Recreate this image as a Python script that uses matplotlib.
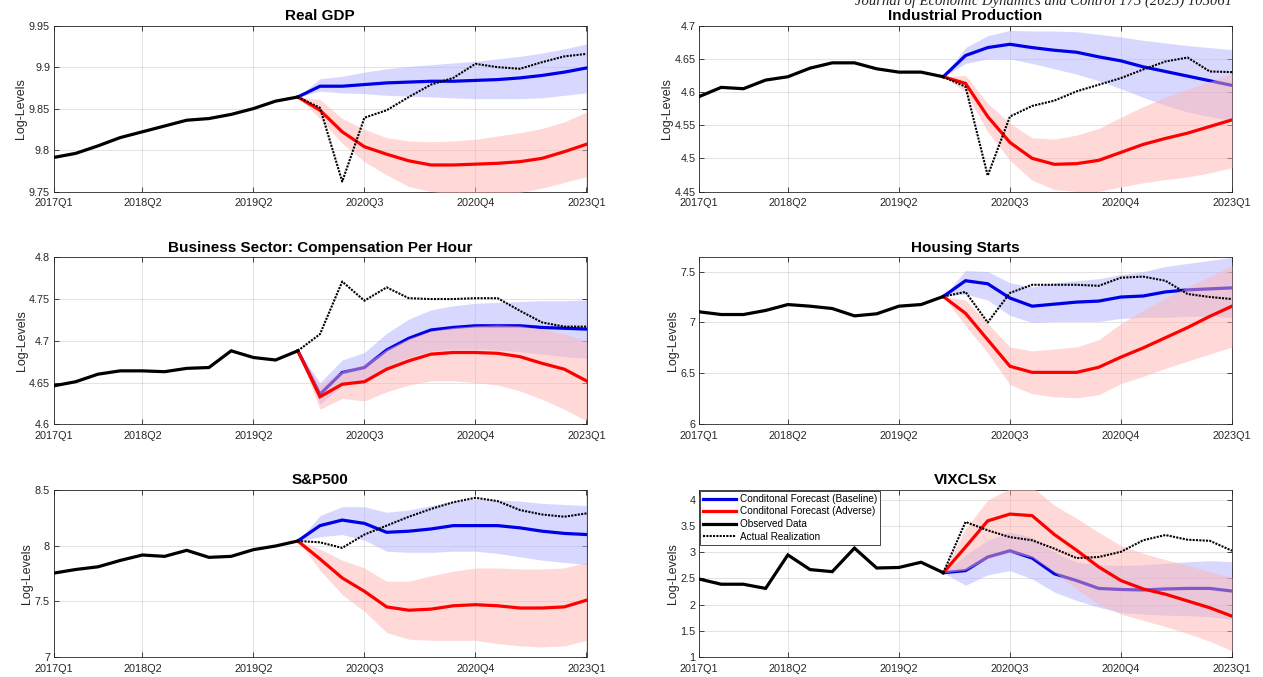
import matplotlib
matplotlib.use("Agg")
import matplotlib.pyplot as plt
from matplotlib.lines import Line2D
from matplotlib.ticker import FixedLocator, FuncFormatter

plt.rcParams["font.family"] = ["Liberation Sans", "DejaVu Sans"]

# Quarter index (1-based), ticks and their labels
QUARTERS = list(range(1, 26))
LAST_OBS = 12
TICK_POS = [1, 5, 10, 15, 20, 25]
TICK_LABELS = ["2017Q1", "2018Q2", "2019Q2", "2020Q3", "2020Q4", "2023Q1"]

# ---- Real GDP ----
GDP_OBS = [9.791, 9.796, 9.805, 9.815, 9.822, 9.829, 9.836, 9.838, 9.843, 9.850, 9.859, 9.864]
GDP_BASE = [9.864, 9.877, 9.877, 9.879, 9.881, 9.882, 9.883, 9.883, 9.884, 9.885, 9.887, 9.890, 9.894, 9.899]
GDP_BASE_HI = [9.864, 9.886, 9.889, 9.894, 9.898, 9.901, 9.903, 9.905, 9.907, 9.910, 9.913, 9.917, 9.922, 9.928]
GDP_BASE_LO = [9.864, 9.871, 9.869, 9.868, 9.866, 9.865, 9.864, 9.863, 9.862, 9.862, 9.862, 9.863, 9.866, 9.869]
GDP_ADV = [9.864, 9.848, 9.822, 9.804, 9.795, 9.787, 9.782, 9.782, 9.783, 9.784, 9.786, 9.790, 9.798, 9.807]
GDP_ADV_HI = [9.864, 9.861, 9.838, 9.825, 9.815, 9.811, 9.810, 9.811, 9.813, 9.817, 9.821, 9.826, 9.834, 9.846]
GDP_ADV_LO = [9.864, 9.838, 9.808, 9.786, 9.770, 9.756, 9.750, 9.747, 9.746, 9.747, 9.749, 9.754, 9.761, 9.768]
GDP_ACTUAL = [9.864, 9.851, 9.762, 9.839, 9.848, 9.864, 9.879, 9.887, 9.904, 9.900, 9.898, 9.906, 9.913, 9.916]

# ---- Industrial Production ----
IP_OBS = [4.593, 4.607, 4.605, 4.618, 4.623, 4.636, 4.644, 4.644, 4.635, 4.630, 4.630, 4.623]
IP_BASE = [4.623, 4.655, 4.667, 4.672, 4.667, 4.663, 4.660, 4.653, 4.647, 4.638, 4.631, 4.624, 4.617, 4.610]
IP_BASE_HI = [4.623, 4.667, 4.685, 4.693, 4.692, 4.692, 4.691, 4.687, 4.683, 4.678, 4.674, 4.670, 4.667, 4.664]
IP_BASE_LO = [4.623, 4.643, 4.650, 4.650, 4.643, 4.635, 4.627, 4.617, 4.605, 4.592, 4.580, 4.570, 4.563, 4.557]
IP_ADV = [4.623, 4.613, 4.563, 4.524, 4.500, 4.491, 4.492, 4.497, 4.509, 4.521, 4.530, 4.538, 4.548, 4.558]
IP_ADV_HI = [4.623, 4.625, 4.583, 4.553, 4.531, 4.529, 4.535, 4.545, 4.562, 4.578, 4.592, 4.604, 4.616, 4.628]
IP_ADV_LO = [4.623, 4.600, 4.540, 4.497, 4.467, 4.453, 4.450, 4.450, 4.457, 4.463, 4.468, 4.472, 4.478, 4.486]
IP_ACTUAL = [4.623, 4.608, 4.474, 4.563, 4.579, 4.587, 4.601, 4.611, 4.621, 4.634, 4.646, 4.652, 4.631, 4.630]

# ---- Business Sector: Compensation Per Hour ----
CPH_OBS = [4.646, 4.651, 4.660, 4.664, 4.664, 4.663, 4.667, 4.668, 4.688, 4.680, 4.677, 4.688]
CPH_BASE = [4.688, 4.636, 4.662, 4.668, 4.689, 4.703, 4.713, 4.716, 4.718, 4.718, 4.718, 4.716, 4.715, 4.714]
CPH_BASE_HI = [4.688, 4.650, 4.677, 4.686, 4.709, 4.726, 4.737, 4.742, 4.745, 4.746, 4.747, 4.748, 4.748, 4.749]
CPH_BASE_LO = [4.688, 4.624, 4.647, 4.652, 4.669, 4.680, 4.688, 4.690, 4.690, 4.689, 4.687, 4.684, 4.681, 4.679]
CPH_ADV = [4.688, 4.633, 4.648, 4.651, 4.666, 4.676, 4.684, 4.686, 4.686, 4.685, 4.681, 4.673, 4.666, 4.652]
CPH_ADV_HI = [4.688, 4.647, 4.664, 4.672, 4.690, 4.703, 4.712, 4.716, 4.718, 4.719, 4.718, 4.714, 4.708, 4.700]
CPH_ADV_LO = [4.688, 4.618, 4.631, 4.628, 4.639, 4.647, 4.652, 4.652, 4.650, 4.647, 4.640, 4.630, 4.618, 4.604]
CPH_ACTUAL = [4.688, 4.708, 4.771, 4.748, 4.764, 4.751, 4.750, 4.750, 4.751, 4.751, 4.736, 4.722, 4.717, 4.717]

# ---- Housing Starts ----
HS_OBS = [7.105, 7.078, 7.078, 7.118, 7.176, 7.160, 7.137, 7.065, 7.085, 7.160, 7.176, 7.255]
HS_BASE = [7.255, 7.41, 7.38, 7.24, 7.16, 7.18, 7.20, 7.21, 7.25, 7.26, 7.30, 7.32, 7.33, 7.34]
HS_BASE_HI = [7.255, 7.51, 7.50, 7.39, 7.35, 7.39, 7.41, 7.43, 7.47, 7.50, 7.55, 7.58, 7.61, 7.64]
HS_BASE_LO = [7.255, 7.28, 7.22, 7.07, 7.00, 7.01, 7.01, 7.01, 7.04, 7.05, 7.05, 7.06, 7.06, 7.05]
HS_ADV = [7.255, 7.09, 6.83, 6.57, 6.51, 6.51, 6.51, 6.56, 6.66, 6.75, 6.85, 6.95, 7.06, 7.16]
HS_ADV_HI = [7.255, 7.22, 6.99, 6.76, 6.72, 6.74, 6.76, 6.83, 6.99, 7.12, 7.24, 7.35, 7.45, 7.56]
HS_ADV_LO = [7.255, 6.97, 6.70, 6.39, 6.30, 6.27, 6.26, 6.29, 6.40, 6.47, 6.55, 6.62, 6.69, 6.76]
HS_ACTUAL = [7.255, 7.30, 7.00, 7.29, 7.37, 7.37, 7.37, 7.36, 7.44, 7.45, 7.41, 7.28, 7.25, 7.23]

# ---- S&P500 ----
SP_OBS = [7.753, 7.786, 7.810, 7.867, 7.916, 7.904, 7.958, 7.895, 7.904, 7.964, 7.997, 8.042]
SP_BASE = [8.042, 8.18, 8.23, 8.20, 8.12, 8.13, 8.15, 8.18, 8.18, 8.18, 8.16, 8.13, 8.11, 8.10]
SP_BASE_HI = [8.042, 8.27, 8.35, 8.35, 8.30, 8.32, 8.36, 8.40, 8.42, 8.41, 8.40, 8.38, 8.37, 8.36]
SP_BASE_LO = [8.042, 8.08, 8.10, 8.05, 7.95, 7.94, 7.94, 7.95, 7.95, 7.93, 7.90, 7.87, 7.85, 7.83]
SP_ADV = [8.042, 7.88, 7.71, 7.59, 7.45, 7.42, 7.43, 7.46, 7.47, 7.46, 7.44, 7.44, 7.45, 7.51]
SP_ADV_HI = [8.042, 7.97, 7.87, 7.80, 7.68, 7.68, 7.73, 7.77, 7.80, 7.80, 7.79, 7.79, 7.80, 7.85]
SP_ADV_LO = [8.042, 7.78, 7.56, 7.41, 7.22, 7.16, 7.15, 7.15, 7.15, 7.12, 7.10, 7.09, 7.10, 7.15]
SP_ACTUAL = [8.042, 8.03, 7.98, 8.10, 8.18, 8.26, 8.33, 8.39, 8.43, 8.40, 8.32, 8.28, 8.26, 8.29]

# ---- VIXCLSx ----
VIX_OBS = [2.49, 2.39, 2.39, 2.31, 2.95, 2.67, 2.63, 3.08, 2.70, 2.71, 2.81, 2.61]
VIX_BASE = [2.61, 2.65, 2.91, 3.03, 2.89, 2.59, 2.46, 2.31, 2.29, 2.28, 2.30, 2.31, 2.31, 2.26]
VIX_BASE_HI = [2.61, 2.95, 3.23, 3.39, 3.29, 3.00, 2.81, 2.76, 2.75, 2.76, 2.79, 2.82, 2.84, 2.82]
VIX_BASE_LO = [2.61, 2.37, 2.57, 2.65, 2.49, 2.24, 2.08, 1.95, 1.85, 1.82, 1.80, 1.79, 1.77, 1.72]
VIX_ADV = [2.61, 3.10, 3.60, 3.73, 3.70, 3.34, 3.04, 2.72, 2.46, 2.30, 2.20, 2.07, 1.94, 1.78]
VIX_ADV_HI = [2.61, 3.45, 4.00, 4.22, 4.25, 3.90, 3.65, 3.38, 3.13, 2.98, 2.86, 2.75, 2.63, 2.52]
VIX_ADV_LO = [2.61, 2.66, 2.88, 3.00, 2.90, 2.62, 2.30, 2.00, 1.82, 1.70, 1.58, 1.45, 1.30, 1.12]
VIX_ACTUAL = [2.61, 3.58, 3.42, 3.29, 3.23, 3.07, 2.89, 2.91, 3.01, 3.23, 3.33, 3.24, 3.22, 3.03]

PANELS = [
    ("Real GDP", GDP_OBS, GDP_BASE, GDP_BASE_LO, GDP_BASE_HI, GDP_ADV, GDP_ADV_LO, GDP_ADV_HI, GDP_ACTUAL,
     (9.75, 9.95), [9.75, 9.8, 9.85, 9.9, 9.95]),
    ("Industrial Production", IP_OBS, IP_BASE, IP_BASE_LO, IP_BASE_HI, IP_ADV, IP_ADV_LO, IP_ADV_HI, IP_ACTUAL,
     (4.45, 4.7), [4.45, 4.5, 4.55, 4.6, 4.65, 4.7]),
    ("Business Sector: Compensation Per Hour", CPH_OBS, CPH_BASE, CPH_BASE_LO, CPH_BASE_HI, CPH_ADV, CPH_ADV_LO,
     CPH_ADV_HI, CPH_ACTUAL, (4.6, 4.8), [4.6, 4.65, 4.7, 4.75, 4.8]),
    ("Housing Starts", HS_OBS, HS_BASE, HS_BASE_LO, HS_BASE_HI, HS_ADV, HS_ADV_LO, HS_ADV_HI, HS_ACTUAL,
     (6.0, 7.64), [6, 6.5, 7, 7.5]),
    ("S&P500", SP_OBS, SP_BASE, SP_BASE_LO, SP_BASE_HI, SP_ADV, SP_ADV_LO, SP_ADV_HI, SP_ACTUAL,
     (7.0, 8.5), [7, 7.5, 8, 8.5]),
    ("VIXCLSx", VIX_OBS, VIX_BASE, VIX_BASE_LO, VIX_BASE_HI, VIX_ADV, VIX_ADV_LO, VIX_ADV_HI, VIX_ACTUAL,
     (1.0, 4.19), [1, 1.5, 2, 2.5, 3, 3.5, 4]),
]

BLUE = "#0000e6"
RED = "#ff0000"
BLUE_BAND = "#b3b3ff"
RED_BAND = "#ffb3b3"
AX_COLOR = "#262626"
DOT_STYLE = (0, (1.0, 0.6))

W, H = 1263, 677
fig = plt.figure(figsize=(W / 100, H / 100), dpi=100)

col_left = [53.5, 699.0]
col_width = 533.0
rows_px = [(25.7, 191.5), (257.3, 424.3), (490.0, 657.0)]

fmt = FuncFormatter(lambda v, _: f"{v:g}")
x_obs = QUARTERS[:LAST_OBS]
x_fc = QUARTERS[LAST_OBS - 1:]

for k, (title, obs, base, base_lo, base_hi, adv, adv_lo, adv_hi, actual, ylim, yticks) in enumerate(PANELS):
    r, c = divmod(k, 2)
    top, bot = rows_px[r]
    ax = fig.add_axes([col_left[c] / W, 1 - bot / H, col_width / W, (bot - top) / H])

    ax.fill_between(x_fc, base_lo, base_hi, color=BLUE_BAND, alpha=0.5, lw=0, zorder=2)
    ax.plot(x_fc, base, color=BLUE, lw=2.3, zorder=3, solid_joinstyle="miter")
    ax.fill_between(x_fc, adv_lo, adv_hi, color=RED_BAND, alpha=0.5, lw=0, zorder=4)
    ax.plot(x_fc, adv, color=RED, lw=2.3, zorder=5, solid_joinstyle="miter")
    ax.plot(x_obs, obs, color="black", lw=2.3, zorder=6, solid_joinstyle="miter")
    ax.plot(x_fc, actual, color="black", lw=1.5, ls=DOT_STYLE, zorder=7, dash_capstyle="butt")

    ax.set_xlim(1, 25)
    ax.set_ylim(*ylim)
    ax.xaxis.set_major_locator(FixedLocator(TICK_POS))
    ax.set_xticklabels(TICK_LABELS)
    ax.yaxis.set_major_locator(FixedLocator(yticks))
    ax.yaxis.set_major_formatter(fmt)

    ax.grid(True, color=AX_COLOR, alpha=0.15, lw=0.6, zorder=0)
    ax.set_axisbelow(True)
    for s in ax.spines.values():
        s.set_color(AX_COLOR)
        s.set_linewidth(0.6)
    ax.tick_params(direction="in", length=3.8, width=0.6, color=AX_COLOR, labelcolor=AX_COLOR,
                   labelsize=7.8, top=True, right=True)
    ax.tick_params(axis="x", pad=5)
    ax.tick_params(axis="y", pad=2.5)

    ax.set_title(title, fontsize=11, fontweight="bold", pad=4, color="black")
    ax.set_ylabel("Log-Levels", fontsize=9, color=AX_COLOR, labelpad=1)

    if title == "VIXCLSx":
        handles = [
            Line2D([], [], color=BLUE, lw=2.3),
            Line2D([], [], color=RED, lw=2.3),
            Line2D([], [], color="black", lw=2.3),
            Line2D([], [], color="black", lw=1.5, ls=DOT_STYLE),
        ]
        labels = ["Conditonal Forecast (Baseline)", "Conditonal Forecast (Adverse)",
                  "Observed Data", "Actual Realization"]
        leg = ax.legend(handles, labels, loc="upper left", bbox_to_anchor=(0.0, 1.0), borderaxespad=0.1,
                        fontsize=7.2, handlelength=3.3, handletextpad=0.35, labelspacing=0.25,
                        borderpad=0.3, frameon=True, fancybox=False, framealpha=1)
        leg.get_frame().set_edgecolor(AX_COLOR)
        leg.get_frame().set_linewidth(0.6)
        leg.set_zorder(10)

fig.text(1232 / W, 1 - 5 / H, "Journal of Economic Dynamics and Control 175 (2025) 105061",
         ha="right", va="baseline", fontsize=10.5, style="italic",
         family=["Liberation Serif", "DejaVu Serif"], color="#222222")

fig.savefig("out.png", dpi=100, facecolor="white")
